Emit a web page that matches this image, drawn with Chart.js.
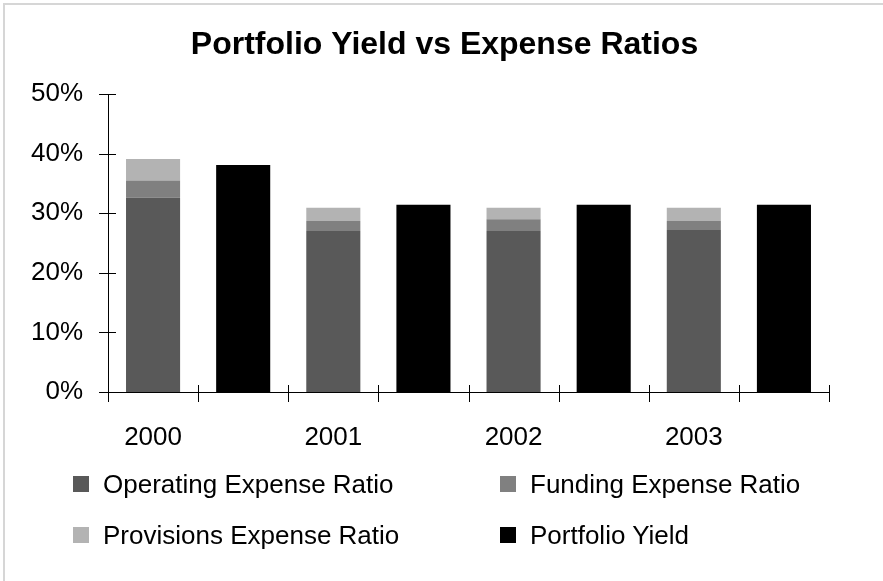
<!DOCTYPE html>
<html>
<head>
<meta charset="utf-8">
<script src="https://cdn.jsdelivr.net/npm/chart.js@4.4.1/dist/chart.umd.min.js"></script>
<style>
  html, body { margin: 0; padding: 0; background: #fff; }
  #wrap { position: relative; width: 883px; height: 581px; overflow: hidden; font-family: 'Liberation Sans', Arial, sans-serif; }
  #frame { position: absolute; left: 3px; top: 3px; width: 900px; height: 600px; border-left: 2px solid #d6d6d6; border-top: 2px solid #d6d6d6; box-sizing: border-box; pointer-events: none; }
  canvas { position: absolute; left: 0; top: 0; }
  .lg { position: absolute; display: flex; align-items: center; height: 30px; font-size: 26px; color: #000; white-space: nowrap; }
  .lg .sw { width: 16px; height: 16px; margin-right: 14px; flex: none; }
</style>
</head>
<body>
<div id="wrap">
  <canvas id="c" width="883" height="581"></canvas>
  <div id="frame"></div>
  <div id="legend"></div>
</div>
<script>
// Categories: each year has an expense slot followed by a yield slot
const categories = ["2000", "", "2001", "", "2002", "", "2003", ""];
const operatingExpense = [32.6, null, 27.0, null, 27.0, null, 27.2, null];
const fundingExpense   = [2.9,  null, 1.7,  null, 2.0,  null, 1.5,  null];
const provisionsExpense= [3.6,  null, 2.2,  null, 1.9,  null, 2.2,  null];
const portfolioYield   = [null, 38.1, null, 31.4, null, 31.4, null, 31.4];
const yTicks = [0, 10, 20, 30, 40, 50];

const seriesNames = ["Operating Expense Ratio", "Funding Expense Ratio", "Provisions Expense Ratio", "Portfolio Yield"];
const seriesColors = ["#595959", "#808080", "#b3b3b3", "#000000"];

Chart.defaults.font.family = "'Liberation Sans', Arial, sans-serif";
Chart.defaults.color = "#000";

const crossTicks = {
  id: 'crossTicks',
  afterDraw(chart) {
    const ctx = chart.ctx;
    const xs = chart.scales.x, ys = chart.scales.y;
    ctx.save();
    ctx.strokeStyle = '#000';
    ctx.lineWidth = 1;
    ys.ticks.forEach((t, i) => {
      const y = Math.round(ys.getPixelForTick(i)) + 0.5;
      ctx.beginPath();
      ctx.moveTo(ys.right - 9, y);
      ctx.lineTo(ys.right + 8, y);
      ctx.stroke();
    });
    for (let i = 0; i <= categories.length; i++) {
      const x = Math.round(xs.getPixelForValue(i - 0.5)) + 0.5;
      ctx.beginPath();
      ctx.moveTo(x, xs.top - 7);
      ctx.lineTo(x, xs.top + 10);
      ctx.stroke();
    }
    ctx.restore();
  }
};

const datasets = [operatingExpense, fundingExpense, provisionsExpense, portfolioYield].map((d, i) => ({
  label: seriesNames[i],
  data: d,
  backgroundColor: seriesColors[i],
  borderWidth: 0,
  categoryPercentage: 1.0,
  barPercentage: 0.6
}));

const chart = new Chart(document.getElementById('c'), {
  type: 'bar',
  data: { labels: categories, datasets },
  options: {
    responsive: false,
    animation: false,
    layout: { padding: { left: 6, right: 0, top: 0, bottom: 119 } },
    plugins: {
      legend: { display: false },
      tooltip: { enabled: false },
      title: {
        display: true,
        text: 'Portfolio Yield vs Expense Ratios',
        font: { size: 32, weight: 'bold' },
        color: '#000',
        padding: { top: 26, bottom: 29.6 }
      }
    },
    scales: {
      x: {
        stacked: true,
        grid: { display: false, drawTicks: false },
        border: { display: true, color: '#000', width: 1 },
        ticks: { autoSkip: false, maxRotation: 0, minRotation: 0, padding: 30, font: { size: 26 }, color: '#000' },
        afterFit(scale) { scale.height = 70; }
      },
      y: {
        stacked: true,
        min: 0,
        max: 50,
        afterBuildTicks(scale) { scale.ticks = yTicks.map(v => ({ value: v })); },
        grid: { display: false, drawTicks: false },
        border: { display: true, color: '#000', width: 1 },
        ticks: { padding: 25, font: { size: 26 }, color: '#000', callback: v => v + '%' },
        afterFit(scale) { scale.width = 102; }
      },
      yRight: {
        position: 'right',
        display: true,
        min: 0,
        max: 50,
        grid: { display: false, drawTicks: false },
        border: { display: false },
        ticks: { display: false },
        afterFit(scale) { scale.width = 54; }
      }
    }
  },
  plugins: [crossTicks]
});

// HTML legend built from the chart datasets, two columns
const legendPos = [[73, 469], [500, 469], [73, 520], [500, 520]];
const lg = document.getElementById('legend');
chart.data.datasets.forEach((ds, i) => {
  const el = document.createElement('div');
  el.className = 'lg';
  el.style.left = legendPos[i][0] + 'px';
  el.style.top = legendPos[i][1] + 'px';
  const sw = document.createElement('span');
  sw.className = 'sw';
  sw.style.background = ds.backgroundColor;
  const tx = document.createElement('span');
  tx.textContent = ds.label;
  el.appendChild(sw); el.appendChild(tx);
  lg.appendChild(el);
});
</script>
</body>
</html>
